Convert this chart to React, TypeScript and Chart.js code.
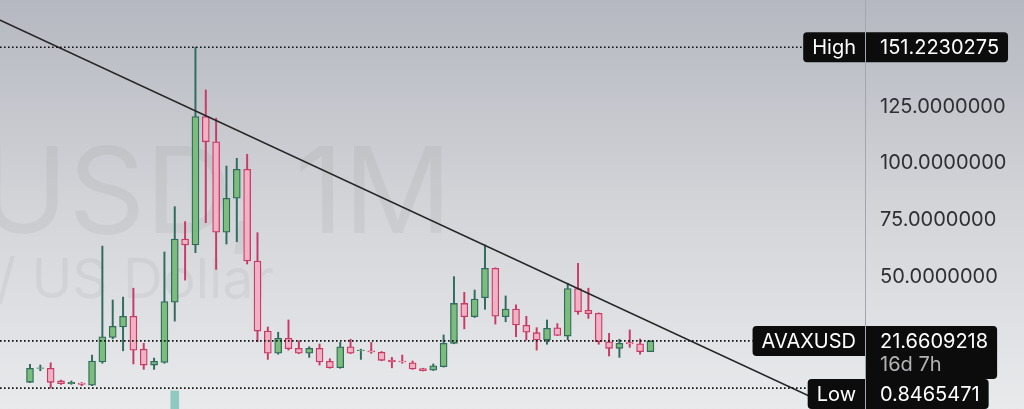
import React, { useEffect, useRef } from 'react';
import { Chart, registerables } from 'chart.js';

Chart.register(...registerables);

// ---- data (monthly candles) ----
const OPEN = [
  3.4, 9.5, 9.6, 4.0, 2.8, 3.1, 2.1, 12.4, 23.2, 27.8,
  32.5, 18.0, 11.0, 12.2, 38.7, 66.6, 64.0, 120.6, 109.5, 69.6,
  84.6, 97.4, 56.9, 26.0, 16.2, 22.8, 18.4, 16.2, 18.4, 12.7,
  9.8, 19.1, 17.3, 17.3, 16.6, 13.2, 12.8, 12.0, 9.4, 8.7,
  10.3, 20.6, 38.2, 32.3, 40.7, 53.7, 32.3, 35.7, 28.5, 25.3,
  22.1, 27.4, 23.8, 44.8, 35.2, 33.8, 21.3, 18.4, 20.9, 20.4,
  16.9,
];
const HIGH = [
  11.3, 11.0, 12.0, 4.4, 4.0, 3.3, 15.4, 63.5, 39.7, 41.0,
  44.9, 20.6, 14.1, 60.9, 80.9, 74.3, 151.2230275, 132.4, 119.9, 98.8,
  102.2, 104.0, 69.4, 27.8, 25.5, 30.9, 21.7, 19.1, 20.3, 13.8,
  21.0, 22.4, 18.0, 21.0, 17.0, 14.4, 15.4, 12.8, 9.6, 11.5,
  24.3, 50.0, 43.1, 44.1, 64.0, 53.9, 41.5, 37.6, 32.5, 27.5,
  30.9, 29.3, 47.1, 55.9, 44.9, 34.0, 25.0, 22.4, 26.5, 22.5,
  21.7,
];
const LOW = [
  3.2, 8.5, 0.8465471, 2.5, 2.5, 1.9, 1.9, 11.8, 22.6, 17.3,
  11.5, 9.1, 9.1, 11.8, 30.4, 48.5, 60.6, 73.8, 53.2, 64.4,
  65.4, 55.6, 21.3, 13.5, 15.8, 17.6, 16.0, 14.4, 11.0, 9.6,
  9.6, 16.0, 13.5, 16.2, 12.9, 9.8, 11.8, 9.1, 8.4, 8.6,
  10.1, 20.4, 27.0, 32.0, 35.6, 29.1, 30.1, 23.5, 22.1, 17.6,
  20.2, 24.0, 22.1, 33.4, 31.6, 20.2, 15.0, 14.4, 18.8, 15.8,
  16.9,
];
const CLOSE = [
  9.6, 9.8, 3.4, 2.8, 3.4, 2.5, 12.8, 23.5, 28.1, 32.5,
  17.6, 11.0, 12.7, 39.0, 66.6, 64.0, 120.6, 109.5, 69.6, 84.6,
  97.4, 56.9, 26.0, 16.2, 22.8, 18.2, 16.2, 18.4, 12.4, 9.8,
  19.1, 16.2, 17.6, 16.8, 13.1, 12.4, 12.4, 9.3, 8.5, 10.7,
  20.6, 38.2, 32.3, 40.1, 53.7, 32.6, 35.7, 28.7, 25.5, 22.1,
  27.2, 24.1, 44.8, 34.5, 33.7, 21.3, 18.4, 20.6, 20.3, 16.9,
  21.6609218,
];
// volume bar visible at the bottom edge (others below view)
const VOLUME: (number | null)[] = OPEN.map(() => null);
VOLUME[14] = 4.4;

const Y_TICKS = [50, 75, 100, 125];
const TREND_X = [-3, 80];
const TREND_Y = [163.4, -12.5];

const SYMBOL = 'AVAXUSD';
const WATERMARK = 'AVAXUSD, 1M';
const WATERMARK_SUB = 'AVAX / US Dollar';
const HIGH_VALUE = 151.2230275;
const LOW_VALUE = 0.8465471;
const LAST_VALUE = 21.6609218;
const COUNTDOWN = '16d 7h';

const UP_FILL = '#7dbd7b';
const UP_LINE = '#2f6b5f';
const DN_FILL = '#f2b2c5';
const DN_LINE = '#c93a65';
const FONT = 'Inter, "Noto Sans", sans-serif';

function roundRect(ctx: CanvasRenderingContext2D, x: number, y: number, w: number, h: number, r: number[]) {
  ctx.beginPath();
  (ctx as any).roundRect(x, y, w, h, r);
  ctx.fill();
}

export default function App() {
  const ref = useRef<HTMLCanvasElement>(null);

  useEffect(() => {
    document.body.style.margin = '0';
    const canvas = ref.current!;
    const idx = OPEN.map((_, i) => i);
    const up = idx.map((i) => CLOSE[i] >= OPEN[i]);

    const overlay = {
      id: 'tvOverlay',
      beforeDraw(chart: any) {
        const { ctx, width, height } = chart;
        ctx.save();
        const g = ctx.createLinearGradient(0, 0, 0, height);
        g.addColorStop(0, '#b5b8c0');
        g.addColorStop(0.5, '#d2d4d8');
        g.addColorStop(1, '#e9eaec');
        ctx.fillStyle = g;
        ctx.fillRect(0, 0, width, height);
        ctx.restore();
      },
      beforeDatasetsDraw(chart: any) {
        const { ctx, chartArea } = chart;
        ctx.save();
        ctx.beginPath();
        ctx.rect(chartArea.left, chartArea.top, chartArea.right - chartArea.left, chartArea.bottom - chartArea.top);
        ctx.clip();
        ctx.fillStyle = 'rgba(0,0,0,0.045)';
        ctx.textAlign = 'right';
        ctx.textBaseline = 'alphabetic';
        ctx.font = `120px ${FONT}`;
        ctx.fillText(WATERMARK, 452, 233);
        ctx.font = `55px ${FONT}`;
        ctx.fillText(WATERMARK_SUB, 274, 298);
        ctx.restore();
      },
      afterDatasetsDraw(chart: any) {
        const { ctx, chartArea } = chart;
        const ys = chart.scales.y;
        const axisX = chartArea.right;
        ctx.save();
        ctx.font = `20px ${FONT}`;
        ctx.textBaseline = 'middle';

        // tick labels
        ctx.fillStyle = '#2e2f33';
        ctx.textAlign = 'left';
        Y_TICKS.forEach((v) => {
          ctx.fillText(v.toFixed(7), axisX + 15, ys.getPixelForValue(v));
        });

        const boxH = 30;
        const padL = 9;
        const drawLevel = (label: string, value: number, top: number, h: number, extra?: string) => {
          const y = ys.getPixelForValue(value);
          const lw = ctx.measureText(label).width + padL * 2;
          // dotted line
          ctx.save();
          ctx.strokeStyle = '#111';
          ctx.lineWidth = 1.6;
          ctx.setLineDash([1.6, 2.4]);
          ctx.beginPath();
          ctx.moveTo(chartArea.left, y);
          ctx.lineTo(axisX - lw, y);
          ctx.stroke();
          ctx.restore();
          // left label
          ctx.fillStyle = '#0c0c0d';
          roundRect(ctx, axisX - lw, top, lw, boxH, [4, 0, 0, 4]);
          ctx.fillStyle = '#ffffff';
          ctx.textAlign = 'left';
          ctx.fillText(label, axisX - lw + padL, top + boxH / 2 + 1);
          // value box
          const txt = value.toFixed(7);
          const vw = 15 + ctx.measureText(txt).width + 9;
          ctx.fillStyle = '#0c0c0d';
          roundRect(ctx, axisX, top, vw, h, [0, 4, 4, 0]);
          ctx.fillStyle = '#ffffff';
          ctx.fillText(txt, axisX + 15, top + boxH / 2 + 1);
          if (extra) {
            ctx.fillStyle = '#b4b4b6';
            ctx.fillText(extra, axisX + 15, top + boxH / 2 + 24);
          }
          return top + h;
        };

        const yHigh = ys.getPixelForValue(HIGH_VALUE);
        drawLevel('High', HIGH_VALUE, yHigh - boxH / 2, boxH);
        const yLast = ys.getPixelForValue(LAST_VALUE);
        const lastBottom = drawLevel(SYMBOL, LAST_VALUE, yLast - boxH / 2, 53, COUNTDOWN);
        const yLow = ys.getPixelForValue(LOW_VALUE);
        drawLevel('Low', LOW_VALUE, Math.max(yLow - boxH / 2, lastBottom), boxH);

        // axis separator
        ctx.strokeStyle = '#a3a6ad';
        ctx.lineWidth = 1;
        ctx.beginPath();
        ctx.moveTo(axisX + 0.5, 0);
        ctx.lineTo(axisX + 0.5, chart.height);
        ctx.stroke();
        ctx.restore();
      },
    };

    const chart = new Chart(canvas, {
      type: 'bar',
      data: {
        datasets: [
          {
            type: 'line',
            data: TREND_X.map((x, i) => ({ x, y: TREND_Y[i] })),
            borderColor: '#262626',
            borderWidth: 1.6,
            pointRadius: 0,
            order: 0,
          } as any,
          {
            data: idx.map((i) => ({ x: i, y: [OPEN[i], CLOSE[i]] })),
            backgroundColor: idx.map((i) => (up[i] ? UP_FILL : DN_FILL)),
            borderColor: idx.map((i) => (up[i] ? UP_LINE : DN_LINE)),
            borderWidth: 1.3,
            borderSkipped: false,
            barThickness: 7,
            grouped: false,
            order: 1,
          },
          {
            data: idx.map((i) => ({ x: i, y: [LOW[i], HIGH[i]] })),
            backgroundColor: idx.map((i) => (up[i] ? UP_LINE : DN_LINE)),
            borderWidth: 0,
            barThickness: 1.3,
            grouped: false,
            order: 2,
          },
          {
            data: idx.map((i) => ({ x: i, y: VOLUME[i] })),
            yAxisID: 'yv',
            backgroundColor: '#8fc9bf',
            barThickness: 8,
            grouped: false,
            order: 3,
          },
        ],
      },
      options: {
        responsive: false,
        animation: false,
        devicePixelRatio: window.devicePixelRatio || 1,
        layout: { padding: { left: 0, top: 0, bottom: 0, right: 159 } },
        plugins: { legend: { display: false }, tooltip: { enabled: false } },
        scales: {
          x: { type: 'linear', min: -2.9, max: 80.75, display: false, offset: false },
          y: { type: 'linear', min: -8.38, max: 172.06, display: false },
          yv: { type: 'linear', min: 0, max: 100, display: false },
        },
      } as any,
      plugins: [overlay],
    });

    return () => chart.destroy();
  }, []);

  return (
    <div style={{ width: 1024, height: 409 }}>
      <canvas ref={ref} width={1024} height={409} style={{ display: 'block', width: 1024, height: 409 }} />
    </div>
  );
}
